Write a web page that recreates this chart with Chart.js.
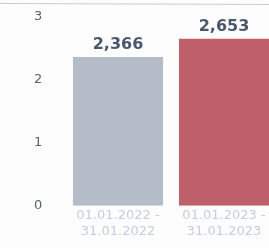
<!DOCTYPE html>
<html>
<head>
<meta charset="utf-8">
<script src="https://cdn.jsdelivr.net/npm/chart.js@4"></script>
<style>
  html,body{margin:0;padding:0;background:#fdfdfd;overflow:hidden;}
  #wrap{position:relative;width:282px;height:248px;}
</style>
</head>
<body>
<div id="wrap"><canvas id="c"></canvas></div>
<script>
// periods (two lines each) and values
const periods = [['01.01.2022 -','31.01.2022'], ['01.01.2023 -','31.01.2023']];
const values = [2.366, 2.653];
const barColors = ['#b4bcc8', '#bf5f69'];
const yTicks = [0, 1, 2, 3];

// value labels above bars + faint paper edge line at top
const valueLabels = {
  id: 'valueLabels',
  afterDatasetsDraw(chart){
    const ctx = chart.ctx;
    const meta = chart.getDatasetMeta(0);
    ctx.save();
    ctx.font = 'bold 16px "DejaVu Sans"';
    ctx.fillStyle = '#4a586c';
    ctx.textAlign = 'center';
    ctx.textBaseline = 'bottom';
    meta.data.forEach((bar,i)=>{
      ctx.fillText(values[i].toFixed(3).replace('.', ','), bar.x, bar.y - 4);
    });
    ctx.strokeStyle = '#c9c9c9';
    ctx.lineWidth = 1;
    ctx.beginPath(); ctx.moveTo(0, 3.5); ctx.lineTo(chart.width, 4.5); ctx.stroke();
    ctx.restore();
  }
};

new Chart(document.getElementById('c'), {
  type: 'bar',
  data: {
    labels: periods,
    datasets: [{
      data: values,
      backgroundColor: barColors,
      barPercentage: 0.85,
      categoryPercentage: 1
    }]
  },
  options: {
    responsive: true,
    maintainAspectRatio: false,
    animation: false,
    layout: { padding: { top: 17, right: 5, bottom: 7, left: 34 } },
    plugins: { legend: { display: false }, tooltip: { enabled: false } },
    scales: {
      x: {
        grid: { display: false, drawTicks: false },
        border: { display: false },
        ticks: { color: '#c4cde0', font: { family: 'DejaVu Sans', size: 13 }, padding: 2, maxRotation: 0, autoSkip: false }
      },
      y: {
        min: 0, max: 3,
        afterBuildTicks(s){ s.ticks = yTicks.map(v=>({value:v})); },
        afterFit(s){ s.width = 31; },
        grid: { display: false, drawTicks: false },
        border: { display: false },
        ticks: { color: '#56616f', font: { family: 'DejaVu Sans', size: 13 }, padding: 2, crossAlign: 'far' }
      }
    }
  },
  plugins: [valueLabels]
});
</script>
</body>
</html>
